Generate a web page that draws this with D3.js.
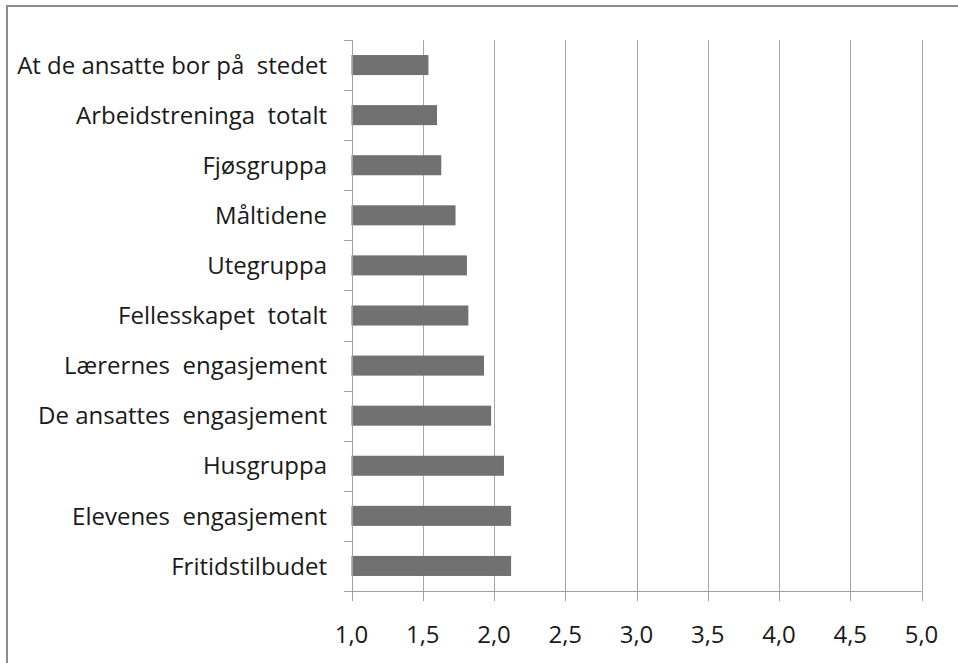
<!DOCTYPE html>
<html>
<head>
<meta charset="utf-8">
<script src="https://cdn.jsdelivr.net/npm/d3@7"></script>
<style>
  body { margin: 0; background: #fff; }
  svg { display: block; }
  text { font-family: "Open Sans", "Noto Sans", sans-serif; fill: #1a1a1a; white-space: pre; }
</style>
</head>
<body>
<svg id="chart" width="958" height="663"></svg>
<script>
// categories from top to bottom (wide gaps kept as in the source)
const categories = [
  "At de ansatte bor på  stedet",
  "Arbeidstreninga  totalt",
  "Fjøsgruppa",
  "Måltidene",
  "Utegruppa",
  "Fellesskapet  totalt",
  "Lærernes  engasjement",
  "De ansattes  engasjement",
  "Husgruppa",
  "Elevenes  engasjement",
  "Fritidstilbudet"
];
const values = [1.54, 1.60, 1.63, 1.73, 1.81, 1.82, 1.93, 1.98, 2.07, 2.12, 2.12];
const xTicks = [1.0, 1.5, 2.0, 2.5, 3.0, 3.5, 4.0, 4.5, 5.0];

const svg = d3.select("#chart");
const plot = { left: 351.5, right: 921.5, top: 40, bottom: 591 };

// outer frame (only top and left edges fall inside the picture)
svg.append("rect")
  .attr("x", 7).attr("y", 6)
  .attr("width", 1000).attr("height", 1000)
  .attr("fill", "none")
  .attr("stroke", "#8c8c8c")
  .attr("stroke-width", 2);

const x = d3.scaleLinear().domain([1, 5]).range([plot.left, plot.right]);
const y = d3.scaleBand().domain(categories).range([plot.top, plot.bottom])
  .paddingInner(0.6).paddingOuter(0.3);

// vertical gridlines
svg.append("g")
  .selectAll("line")
  .data(xTicks.slice(1))
  .join("line")
  .attr("x1", d => Math.round(x(d)) + 0.5)
  .attr("x2", d => Math.round(x(d)) + 0.5)
  .attr("y1", plot.top).attr("y2", plot.bottom)
  .attr("stroke", "#a6a6a6");

// bars
svg.append("g")
  .selectAll("rect")
  .data(values)
  .join("rect")
  .attr("x", x(1))
  .attr("y", (d, i) => y(categories[i]))
  .attr("width", d => x(d) - x(1))
  .attr("height", y.bandwidth())
  .attr("fill", "#717171");

// y axis: line plus tick marks at category boundaries
const yb = i => Math.round(plot.top + i * (plot.bottom - plot.top) / categories.length) + 0.5;
const yAxis = svg.append("g");
yAxis.append("line")
  .attr("x1", Math.round(plot.left) + 0.5).attr("x2", Math.round(plot.left) + 0.5)
  .attr("y1", plot.top).attr("y2", plot.bottom)
  .attr("stroke", "#a0a0a0");
yAxis.selectAll(".tk")
  .data(d3.range(categories.length + 1))
  .join("line")
  .attr("class", "tk")
  .attr("x1", Math.round(plot.left) - 8).attr("x2", Math.round(plot.left) + 0.5)
  .attr("y1", yb).attr("y2", yb)
  .attr("stroke", "#a0a0a0");
yAxis.selectAll(".lbl")
  .data(categories)
  .join("text")
  .attr("class", "lbl")
  .attr("x", 327)
  .attr("y", d => y(d) + y.bandwidth() / 2)
  .attr("dy", "0.36em")
  .attr("text-anchor", "end")
  .style("font-size", "24px")
  .text(d => d);

// x axis
const xAxis = svg.append("g");
xAxis.append("line")
  .attr("x1", plot.left).attr("x2", plot.right)
  .attr("y1", plot.bottom + 0.5).attr("y2", plot.bottom + 0.5)
  .attr("stroke", "#a0a0a0");
xAxis.selectAll(".tk")
  .data(xTicks)
  .join("line")
  .attr("class", "tk")
  .attr("x1", d => Math.round(x(d)) + 0.5).attr("x2", d => Math.round(x(d)) + 0.5)
  .attr("y1", plot.bottom).attr("y2", plot.bottom + 10)
  .attr("stroke", "#a0a0a0");
xAxis.selectAll(".lbl")
  .data(xTicks)
  .join("text")
  .attr("class", "lbl")
  .attr("x", d => x(d))
  .attr("y", 643)
  .attr("text-anchor", "middle")
  .style("font-size", "24px")
  .text(d => d3.format(".1f")(d).replace(".", ","));
</script>
</body>
</html>
